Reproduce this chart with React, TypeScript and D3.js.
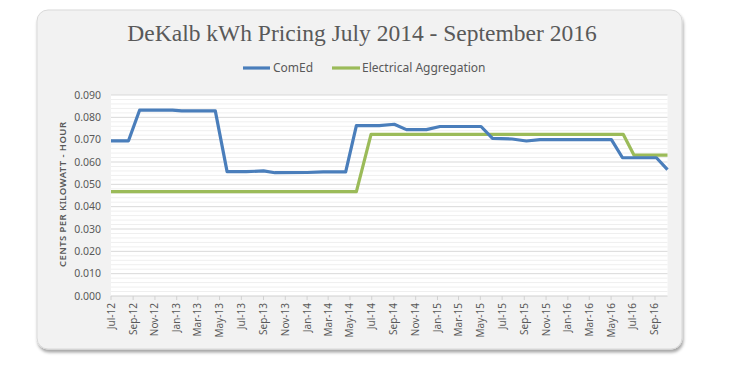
import React from "react";
import * as d3 from "d3";

const TITLE = "DeKalb kWh Pricing July 2014 - September 2016";
const Y_TITLE = "CENTS PER KILOWATT - HOUR";
const SERIES_NAMES = ["ComEd", "Electrical Aggregation"];
const SERIES_COLORS = ["#4a7ebb", "#9bbb59"];

const comedDates = [
  "2012-07-01", "2012-08-19", "2012-09-19", "2012-12-20", "2013-01-15", "2013-04-19",
  "2013-05-22", "2013-07-15", "2013-09-01", "2013-10-03", "2014-01-01", "2014-02-15",
  "2014-04-19", "2014-05-19", "2014-07-22", "2014-09-02", "2014-10-06", "2014-12-01",
  "2015-01-08", "2015-05-03", "2015-06-04", "2015-07-29", "2015-09-07", "2015-10-15",
  "2016-05-02", "2016-06-02", "2016-09-05", "2016-10-06",
];
const comedValues = [
  0.0695, 0.0695, 0.0832, 0.0832, 0.0829, 0.0829,
  0.0557, 0.0557, 0.0560, 0.0552, 0.0553, 0.0556,
  0.0556, 0.0763, 0.0763, 0.0769, 0.0745, 0.0745,
  0.0759, 0.0759, 0.0706, 0.0703, 0.0694, 0.0700,
  0.0700, 0.0619, 0.0619, 0.0566,
];

const aggDates = ["2012-07-01", "2014-05-19", "2014-06-29", "2016-06-04", "2016-07-04", "2016-10-06"];
const aggValues = [0.0467, 0.0467, 0.0724, 0.0724, 0.0631, 0.0631];

const yTicks = [0, 0.01, 0.02, 0.03, 0.04, 0.05, 0.06, 0.07, 0.08, 0.09];

const W = 734;
const H = 375;
const plot = { left: 111, right: 667.5, top: 95, bottom: 296 };

export default function App() {
  const parse = d3.timeParse("%Y-%m-%d");
  const comed = comedDates.map((d, i) => ({ date: parse(d) as Date, value: comedValues[i] }));
  const agg = aggDates.map((d, i) => ({ date: parse(d) as Date, value: aggValues[i] }));

  const x = d3
    .scaleTime()
    .domain([parse("2012-07-01") as Date, parse("2016-10-06") as Date])
    .range([plot.left, plot.right]);
  const y = d3.scaleLinear().domain([0, 0.09]).range([plot.bottom, plot.top]);

  const xTicks = x.ticks(d3.timeMonth.every(2) as any);
  const fmtX = d3.timeFormat("%b-%y");
  const fmtY = d3.format(".3f");
  const minorTicks = d3.range(0, 0.0901, 0.002).filter((v) => Math.round(v * 1000) % 10 !== 0);

  const line = d3
    .line<{ date: Date; value: number }>()
    .x((d) => x(d.date))
    .y((d) => y(d.value));

  const font = "'Noto Sans', 'Open Sans', sans-serif";
  const textCol = "#595959";

  return (
    <svg width={W} height={H} style={{ position: "absolute", left: 0, top: 0 }}>
      <defs>
        <filter id="shadow" x="-5%" y="-5%" width="110%" height="115%">
          <feDropShadow dx="1" dy="3" stdDeviation="1.6" floodColor="#000" floodOpacity="0.35" />
        </filter>
      </defs>
      <rect x={0} y={0} width={W} height={H} fill="#ffffff" />
      <rect
        x={37}
        y={10}
        width={645}
        height={339}
        rx={11}
        ry={11}
        fill="#f2f2f2"
        stroke="#d9d9d9"
        strokeWidth={1}
        filter="url(#shadow)"
      />
      <rect
        x={plot.left}
        y={plot.top}
        width={plot.right - plot.left}
        height={plot.bottom - plot.top}
        fill="#ffffff"
      />
      {minorTicks.map((v) => (
        <line
          key={"m" + v}
          x1={plot.left}
          x2={plot.right}
          y1={y(v)}
          y2={y(v)}
          stroke="#efefef"
          strokeWidth={1}
        />
      ))}
      {yTicks.map((v) => (
        <line
          key={"g" + v}
          x1={plot.left}
          x2={plot.right}
          y1={y(v)}
          y2={y(v)}
          stroke={v === 0 ? "#d0d0d0" : "#d9d9d9"}
          strokeWidth={1}
        />
      ))}
      {yTicks.map((v) => (
        <text
          key={"yl" + v}
          x={plot.left - 10}
          y={y(v)}
          dy="0.35em"
          textAnchor="end"
          fontFamily={font}
          fontSize={10.5}
          fill={textCol}
        >
          {fmtY(v)}
        </text>
      ))}
      {xTicks.map((t) => (
        <g key={"xt" + t.getTime()}>
          <line x1={x(t)} x2={x(t)} y1={plot.bottom} y2={plot.bottom + 4} stroke="#d0d0d0" />
          <text
            transform={`translate(${x(t) + 3.5},${plot.bottom + 7}) rotate(-90)`}
            textAnchor="end"
            fontFamily={font}
            fontSize={10}
            fill={textCol}
          >
            {fmtX(t)}
          </text>
        </g>
      ))}
      <text
        transform={`translate(63,${(122 + 267) / 2}) rotate(-90)`}
        textAnchor="middle"
        dy="0.35em"
        fontFamily={font}
        fontSize={9.5}
        fontWeight={600}
        fill={textCol}
        textLength={145}
        lengthAdjust="spacing"
      >
        {Y_TITLE}
      </text>
      <path d={line(agg) || ""} fill="none" stroke={SERIES_COLORS[1]} strokeWidth={3.2} strokeLinejoin="round" />
      <path d={line(comed) || ""} fill="none" stroke={SERIES_COLORS[0]} strokeWidth={3.2} strokeLinejoin="round" />
      <text
        x={362}
        y={41}
        textAnchor="middle"
        fontFamily="'Liberation Serif', serif"
        fontSize={23.5}
        fill={textCol}
      >
        {TITLE}
      </text>
      <g fontFamily={font} fontSize={12} fill={textCol}>
        <line x1={243} x2={270} y1={68} y2={68} stroke={SERIES_COLORS[0]} strokeWidth={3.2} />
        <text x={273} y={68} dy="0.35em">
          {SERIES_NAMES[0]}
        </text>
        <line x1={332} x2={360} y1={68} y2={68} stroke={SERIES_COLORS[1]} strokeWidth={3.2} />
        <text x={362} y={68} dy="0.35em">
          {SERIES_NAMES[1]}
        </text>
      </g>
    </svg>
  );
}
